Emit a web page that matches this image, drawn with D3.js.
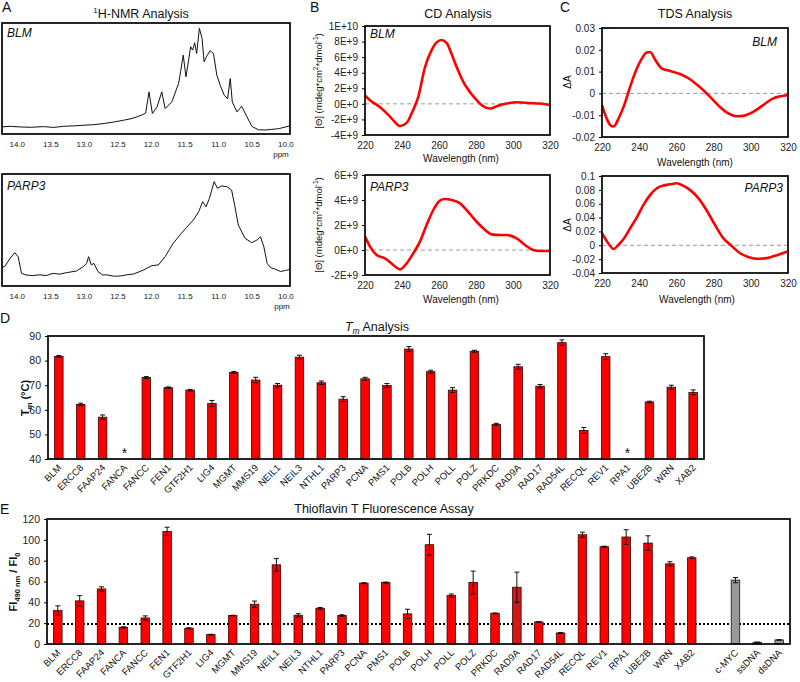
<!DOCTYPE html>
<html>
<head>
<meta charset="utf-8">
<script src="https://cdn.jsdelivr.net/npm/d3@7"></script>
<style>
  body { margin: 0; background: #fff; }
  svg { font-family: "Liberation Sans", Arial, sans-serif; }
</style>
</head>
<body>
<svg id="fig" width="800" height="682"></svg>
<script>
// ---- panel A: 1H-NMR spectra, [ppm, relative intensity] ----
const nmrTicks = [14.0, 13.5, 13.0, 12.5, 12.0, 11.5, 11.0, 10.5, 10.0];
const nmrBLM = [[14.25,0.04],[14.1,0.046],[13.95,0.04],[13.8,0.037],[13.6,0.043],[13.45,0.036],[13.3,0.046],[13.15,0.05],[13.0,0.056],[12.85,0.061],[12.7,0.072],[12.55,0.086],[12.41,0.102],[12.3,0.116],[12.21,0.133],[12.12,0.155],[12.08,0.17],[12.03,0.364],[11.98,0.164],[11.91,0.225],[11.84,0.364],[11.79,0.21],[11.69,0.272],[11.59,0.441],[11.56,0.549],[11.52,0.704],[11.48,0.503],[11.44,0.657],[11.41,0.781],[11.38,0.75],[11.35,0.818],[11.32,0.719],[11.28,0.951],[11.24,0.858],[11.21,0.642],[11.17,0.694],[11.12,0.744],[11.07,0.719],[11.02,0.519],[10.97,0.426],[10.91,0.333],[10.86,0.302],[10.82,0.488],[10.79,0.272],[10.72,0.179],[10.65,0.231],[10.57,0.133],[10.5,0.046],[10.4,0.014],[10.3,0.012],[10.2,0.018],[10.1,0.024],[9.93,0.05]];
const nmrPARP3 = [[14.25,0.164],[14.18,0.173],[14.10,0.247],[14.03,0.298],[13.98,0.262],[13.93,0.113],[13.86,0.098],[13.76,0.093],[13.66,0.1],[13.56,0.093],[13.46,0.113],[13.36,0.106],[13.26,0.119],[13.11,0.134],[13.01,0.173],[12.96,0.202],[12.93,0.262],[12.89,0.188],[12.85,0.202],[12.79,0.128],[12.72,0.098],[12.66,0.1],[12.56,0.088],[12.46,0.089],[12.36,0.1],[12.26,0.107],[12.11,0.143],[11.99,0.182],[11.89,0.188],[11.79,0.262],[11.67,0.381],[11.57,0.455],[11.47,0.524],[11.37,0.589],[11.29,0.664],[11.23,0.753],[11.18,0.708],[11.13,0.783],[11.06,0.932],[11.01,0.872],[10.95,0.893],[10.87,0.887],[10.80,0.857],[10.75,0.708],[10.70,0.545],[10.60,0.426],[10.50,0.387],[10.42,0.411],[10.37,0.44],[10.32,0.351],[10.27,0.202],[10.22,0.164],[10.15,0.15],[10.07,0.13],[10.0,0.138],[9.93,0.149]];

// ---- panel B: CD spectra, [wavelength nm, ellipticity] ----
const waveTicks = [220, 240, 260, 280, 300, 320];
const cdBLMTicks = [-4e9, -2e9, 0, 2e9, 4e9, 6e9, 8e9, 1e10];
const cdPARP3Ticks = [-2e9, 0, 2e9, 4e9, 6e9];
const cdBLM = [[220,1.1e9],[222.7,0.47e9],[228,-0.4e9],[233,-1.5e9],[236,-2.3e9],[239,-2.85e9],[242.5,-2.45e9],[246,-0.8e9],[248.8,0.9e9],[252.4,4.7e9],[256,6.9e9],[258.7,7.9e9],[261.4,8.2e9],[264.2,7.8e9],[266.8,6.4e9],[269.6,4.7e9],[273.2,2.8e9],[276.8,1.5e9],[280.4,0.47e9],[283.1,-0.17e9],[287.6,-0.6e9],[291.2,-0.3e9],[296.6,0.04e9],[302,0.2e9],[309.2,0.1e9],[314.6,0.04e9],[320,-0.15e9]];
const cdPARP3 = [[220,1.07e9],[222.7,0.27e9],[226.3,-0.4e9],[230.8,-0.67e9],[235.3,-1.2e9],[238.9,-1.55e9],[242.5,-1.07e9],[246.1,-0.27e9],[249.7,0.67e9],[253.3,2.0e9],[256.9,3.2e9],[260.5,3.95e9],[263.2,4.08e9],[266.8,4.0e9],[271.4,3.73e9],[274.9,3.2e9],[279.5,2.4e9],[284,1.73e9],[288.5,1.25e9],[293,1.2e9],[296.6,1.2e9],[302,0.93e9],[306.5,0.4e9],[311,0],[314.6,-0.08e9],[320,-0.08e9]];

// ---- panel C: thermal difference spectra, [wavelength nm, dA] ----
const tdsBLMTicks = [-0.02, -0.01, 0, 0.01, 0.02, 0.03];
const tdsPARP3Ticks = [-0.04, -0.02, 0, 0.02, 0.04, 0.06, 0.08, 0.1];
const tdsBLM = [[220,-0.0054],[221.8,-0.01],[224.5,-0.0146],[226.3,-0.0152],[228.9,-0.0115],[231.6,-0.0062],[234.3,0.0008],[237,0.0077],[240.5,0.0146],[244.1,0.0188],[245.9,0.019],[248.6,0.0154],[252.1,0.0115],[256.6,0.0103],[262,0.0089],[267.3,0.0065],[272.7,0.0028],[278,-0.0015],[283.4,-0.0062],[287.9,-0.0092],[292.3,-0.0105],[295.9,-0.0103],[301.3,-0.0085],[306.6,-0.0054],[312,-0.0023],[320,-0.0008]];
const tdsPARP3 = [[220,0.0176],[222.7,0.0056],[226.3,-0.0054],[228.9,0.0008],[231.6,0.009],[235.2,0.0248],[238.8,0.0406],[242.3,0.0583],[245.9,0.0727],[249.5,0.0823],[253,0.0862],[256.6,0.088],[260.2,0.0895],[263.8,0.0857],[267.3,0.08],[271.8,0.068],[276.3,0.0502],[280.7,0.0296],[285.2,0.0104],[289.6,-0.0006],[294.1,-0.0112],[298.6,-0.017],[303,-0.0194],[307.5,-0.0189],[312,-0.016],[316.4,-0.0122],[320,-0.0088]];

// ---- panels D and E: per-gene bars ----
const genes = ["BLM","ERCC8","FAAP24","FANCA","FANCC","FEN1","GTF2H1","LIG4","MGMT","MMS19","NEIL1","NEIL3","NTHL1","PARP3","PCNA","PMS1","POLB","POLH","POLL","POLZ","PRKDC","RAD9A","RAD17","RAD54L","RECQL","REV1","RPA1","UBE2B","WRN","XAB2"];
const tmTicks = [40, 50, 60, 70, 80, 90];
const tmValues = [81.7,62.2,57.0,null,73.1,69.0,68.0,62.6,75.2,72.1,70.0,81.4,71.0,64.3,72.6,69.9,84.7,75.5,68.0,83.8,54.1,77.5,69.6,87.3,51.6,81.6,null,63.2,69.2,67.1];
const tmErrors = [0.4,0.5,0.9,null,0.4,0.3,0.3,1.2,0.4,1.1,0.7,0.8,0.7,1.0,0.6,0.8,1.0,0.6,1.0,0.4,0.4,1.0,0.7,1.1,1.2,1.2,null,0.3,0.8,1.0];
const controls = ["c-MYC","ssDNA","dsDNA"];
const thtTicks = [0, 20, 40, 60, 80, 100, 120];
const thtValues = [32.1,41.4,52.9,16.0,25.0,108.1,15.1,9.0,27.3,38.2,76.0,27.6,34.3,27.3,58.4,59.0,28.9,95.3,46.5,59.0,29.5,54.5,21.2,10.6,104.9,93.4,102.7,96.9,77.0,82.8];
const thtErrors = [4.5,5,2,0.5,2,4,0.5,0.3,0.3,3,6,1.5,0.8,0.8,0.5,0.5,4.5,10,1.5,11,0.3,14.5,0.3,0.5,2.5,0.5,7,7,2,0.8];
const controlValues = [61.3,1.6,3.9];
const controlErrors = [2.5,0.3,0.3];
const thtThreshold = 19.2;

const svg = d3.select("#fig");
const FONT = '"Liberation Sans", Arial, sans-serif';
const RED = "#ff0000";
let clipCount = 0;

function addText(x, y, str, size, anchor = "middle") {
  return svg.append("text").attr("x", x).attr("y", y).attr("font-size", size)
    .attr("text-anchor", anchor).attr("fill", "#111").text(str);
}

function frame(g, left, top, right, bottom) {
  g.append("rect").attr("x", left).attr("y", top)
    .attr("width", right - left).attr("height", bottom - top)
    .attr("fill", "none").attr("stroke", "#000").attr("stroke-width", 1.7);
}

function sci(v) {
  if (v === 0) return "0E+0";
  const e = Math.floor(Math.log10(Math.abs(v)));
  return `${Math.round(v / 10 ** e)}E+${e}`;
}

function linePanel(o) {
  const x = d3.scaleLinear().domain(o.xDomain).range([o.left, o.right]);
  const y = d3.scaleLinear().domain(o.yDomain).range([o.bottom, o.top]);
  const g = svg.append("g");
  const clipId = "clip" + clipCount++;
  g.append("clipPath").attr("id", clipId).append("rect")
    .attr("x", o.left).attr("y", o.top).attr("width", o.right - o.left).attr("height", o.bottom - o.top);

  if (o.zeroLine) {
    g.append("line").attr("x1", o.left).attr("x2", o.right).attr("y1", y(0)).attr("y2", y(0))
      .attr("stroke", "#9a9a9a").attr("stroke-width", 1).attr("stroke-dasharray", "4,3");
  }

  g.append("path").datum(o.data)
    .attr("clip-path", `url(#${clipId})`)
    .attr("fill", "none").attr("stroke", o.color).attr("stroke-width", o.lineWidth)
    .attr("stroke-linejoin", "round")
    .attr("d", d3.line().x((d) => x(d[0])).y((d) => y(d[1])).curve(o.curve));

  const xa = g.append("g").attr("transform", `translate(0,${o.bottom})`)
    .call(d3.axisBottom(x).tickValues(o.xTicks).tickSize(0).tickPadding(o.xPad).tickFormat(o.xFormat));
  xa.select(".domain").remove();
  xa.attr("font-family", FONT).attr("font-size", o.xFont);
  xa.selectAll("text").attr("fill", "#222");

  if (o.yTicks) {
    const ya = g.append("g").attr("transform", `translate(${o.left},0)`)
      .call(d3.axisLeft(y).tickValues(o.yTicks).tickSize(3).tickPadding(4).tickFormat(o.yFormat));
    ya.select(".domain").remove();
    ya.attr("font-family", FONT).attr("font-size", 10);
    ya.selectAll("text").attr("fill", "#222");
  }

  frame(g, o.left, o.top, o.right, o.bottom);

  if (o.tag) {
    g.append("text").attr("x", o.tagRight ? o.right - o.tagInset : o.left + 5).attr("y", o.top + o.tagDy)
      .attr("text-anchor", o.tagRight ? "end" : "start")
      .attr("font-size", 12).attr("font-style", "italic").attr("fill", "#111").text(o.tag);
  }
  return { x, y, g };
}

// ---------------- panel A ----------------
addText(2, 12, "A", 14, "start");
const nmrTitle = addText(141, 18, "", 12.5);
nmrTitle.append("tspan").attr("font-size", 8).attr("dy", -5).text("1");
nmrTitle.append("tspan").attr("dy", 5).text("H-NMR Analysis");

const nmrCommon = {
  left: 2, right: 290, xDomain: [14.22, 9.93], xTicks: nmrTicks, xFormat: d3.format(".1f"),
  xPad: 7, xFont: 8, color: "#111", lineWidth: 1, curve: d3.curveLinear,
};
linePanel({ ...nmrCommon, top: 23, bottom: 134, yDomain: [-0.025, 1], data: nmrBLM, tag: "BLM", tagDy: 14 });
addText(281, 157, "ppm", 8);
linePanel({ ...nmrCommon, top: 174, bottom: 286, yDomain: [0, 1], data: nmrPARP3, tag: "PARP3", tagDy: 16 });
addText(282, 309, "ppm", 8);

// ---------------- panel B ----------------
addText(310, 12, "B", 14, "start");
addText(458, 18, "CD Analysis", 12.5);
const cdCommon = {
  left: 365, right: 550, xDomain: [220, 320], xTicks: waveTicks, xFormat: d3.format("d"),
  xPad: 7, xFont: 10, color: RED, lineWidth: 2.6, curve: d3.curveMonotoneX, zeroLine: true,
  yFormat: sci,
};
linePanel({ ...cdCommon, top: 26, bottom: 135, yDomain: [-4e9, 1e10], yTicks: cdBLMTicks, data: cdBLM, tag: "BLM", tagDy: 12 });
addText(461, 162, "Wavelength (nm)", 10);
linePanel({ ...cdCommon, top: 175, bottom: 275, yDomain: [-2e9, 6e9], yTicks: cdPARP3Ticks, data: cdPARP3, tag: "PARP3", tagDy: 16 });
addText(461, 303, "Wavelength (nm)", 10);

function cdLabel(cy) {
  const t = svg.append("text").attr("transform", `translate(322,${cy}) rotate(-90)`)
    .attr("text-anchor", "middle").attr("font-size", 9.5).attr("fill", "#111");
  t.append("tspan").text("[\u0398] (mdeg*cm");
  t.append("tspan").attr("font-size", 6.5).attr("dy", -4).text("2");
  t.append("tspan").attr("dy", 4).text("*dmol");
  t.append("tspan").attr("font-size", 6.5).attr("dy", -4).text("-1");
  t.append("tspan").attr("dy", 4).text(")");
}
cdLabel(81);
cdLabel(225);

// ---------------- panel C ----------------
addText(560, 12, "C", 14, "start");
addText(695, 18, "TDS Analysis", 12.5);
const tdsCommon = {
  left: 602, right: 788, xDomain: [220, 320], xTicks: waveTicks, xFormat: d3.format("d"),
  xPad: 7, xFont: 10, color: RED, lineWidth: 2.6, curve: d3.curveMonotoneX, zeroLine: true,
  yFormat: (v) => String(+v.toFixed(2)),
};
linePanel({ ...tdsCommon, top: 28, bottom: 137, yDomain: [-0.02, 0.03], yTicks: tdsBLMTicks, data: tdsBLM, tag: "BLM", tagDy: 18, tagRight: true, tagInset: 11 });
addText(695, 166, "Wavelength (nm)", 10);
linePanel({ ...tdsCommon, top: 176, bottom: 273, yDomain: [-0.04, 0.1], yTicks: tdsPARP3Ticks, data: tdsPARP3, tag: "PARP3", tagDy: 16, tagRight: true, tagInset: 5 });
addText(697, 303, "Wavelength (nm)", 10);
[82, 225].forEach((cy) => {
  svg.append("text").attr("transform", `translate(571,${cy}) rotate(-90)`)
    .attr("text-anchor", "middle").attr("font-size", 10).attr("fill", "#111").text("\u0394A");
});

// ---------------- bar panels ----------------
function barPanel(o) {
  const x = d3.scaleBand().domain(o.domain).range([o.left, o.right]).paddingInner(0.61).paddingOuter(0.3);
  const y = d3.scaleLinear().domain(o.yDomain).range([o.bottom, o.top]);
  const g = svg.append("g");
  const rows = o.names.map((name, i) => ({ name, value: o.values[i], err: o.errors[i], fill: o.fills[i] }));
  const drawn = rows.filter((d) => d.value != null);

  if (o.threshold != null) {
    g.append("line").attr("x1", o.left).attr("x2", o.right)
      .attr("y1", y(o.threshold)).attr("y2", y(o.threshold))
      .attr("stroke", "#000").attr("stroke-width", 1.8).attr("stroke-dasharray", "2,2");
  }

  g.selectAll(".bar").data(drawn).join("rect")
    .attr("x", (d) => x(d.name)).attr("width", x.bandwidth())
    .attr("y", (d) => y(d.value)).attr("height", (d) => y(o.yDomain[0]) - y(d.value))
    .attr("fill", (d) => d.fill).attr("stroke", "#3a0000").attr("stroke-width", 0.8);

  const cx = (d) => x(d.name) + x.bandwidth() / 2;
  const eb = g.selectAll(".err").data(drawn).join("g").attr("stroke", "#111").attr("stroke-width", 1);
  eb.append("line").attr("x1", cx).attr("x2", cx)
    .attr("y1", (d) => y(d.value - d.err)).attr("y2", (d) => y(d.value + d.err));
  eb.append("line").attr("x1", (d) => cx(d) - 2.5).attr("x2", (d) => cx(d) + 2.5)
    .attr("y1", (d) => y(d.value + d.err)).attr("y2", (d) => y(d.value + d.err));
  eb.append("line").attr("x1", (d) => cx(d) - 2.5).attr("x2", (d) => cx(d) + 2.5)
    .attr("y1", (d) => y(d.value - d.err)).attr("y2", (d) => y(d.value - d.err));

  g.selectAll(".star").data(rows.filter((d) => d.value == null)).join("text")
    .attr("x", cx).attr("y", o.bottom - 1).attr("text-anchor", "middle")
    .attr("font-size", 14).attr("fill", "#111").text("*");

  const ya = g.append("g").attr("transform", `translate(${o.left},0)`)
    .call(d3.axisLeft(y).tickValues(o.yTicks).tickSize(3).tickPadding(4));
  ya.select(".domain").remove();
  ya.attr("font-family", FONT).attr("font-size", 10.5);
  ya.selectAll("text").attr("fill", "#222");

  g.selectAll(".lab").data(o.names).join("text")
    .attr("transform", (d) => `translate(${x(d) + x.bandwidth() / 2 + 1},${o.bottom + 7}) rotate(-45)`)
    .attr("text-anchor", "end").attr("dy", "0.35em")
    .attr("font-size", 9.5).attr("fill", "#111").text((d) => d);

  frame(g, o.left, o.top, o.right, o.bottom);
  return { x, y };
}

// panel D
addText(0, 323, "D", 14, "start");
const tmTitle = addText(377, 331, "", 12.5);
tmTitle.append("tspan").attr("font-style", "italic").text("T");
tmTitle.append("tspan").attr("font-style", "italic").attr("font-size", 8.5).attr("dy", 3).text("m");
tmTitle.append("tspan").attr("dy", -3).text(" Analysis");
barPanel({
  left: 48, right: 704, top: 336, bottom: 459, yDomain: [40, 90], yTicks: tmTicks,
  domain: genes, names: genes, values: tmValues, errors: tmErrors,
  fills: genes.map(() => RED),
});
const tmLab = svg.append("text").attr("transform", "translate(29,398) rotate(-90)")
  .attr("text-anchor", "middle").attr("font-size", 11).attr("font-weight", "bold").attr("fill", "#111");
tmLab.append("tspan").text("T");
tmLab.append("tspan").attr("font-size", 7.5).attr("dy", 3).text("m");
tmLab.append("tspan").attr("dy", -3).text(" (\u00b0C)");

// panel E
addText(0, 514, "E", 14, "start");
addText(384, 513, "Thioflavin T Fluorescence Assay", 12.5);
const thtNames = genes.concat(controls);
barPanel({
  left: 47, right: 790, top: 519, bottom: 644, yDomain: [0, 120], yTicks: thtTicks,
  domain: genes.concat([" "], controls), names: thtNames,
  values: thtValues.concat(controlValues), errors: thtErrors.concat(controlErrors),
  fills: genes.map((g) => (g === "RAD9A" ? "#d01818" : RED)).concat(controls.map(() => "#999999")),
  threshold: thtThreshold,
});
const fiLab = svg.append("text").attr("transform", "translate(17,582) rotate(-90)")
  .attr("text-anchor", "middle").attr("font-size", 11).attr("font-weight", "bold").attr("fill", "#111");
fiLab.append("tspan").text("FI");
fiLab.append("tspan").attr("font-size", 7.5).attr("dy", 3).text("490 nm");
fiLab.append("tspan").attr("dy", -3).text(" / FI");
fiLab.append("tspan").attr("font-size", 7.5).attr("dy", 3).text("0");
</script>
</body>
</html>
